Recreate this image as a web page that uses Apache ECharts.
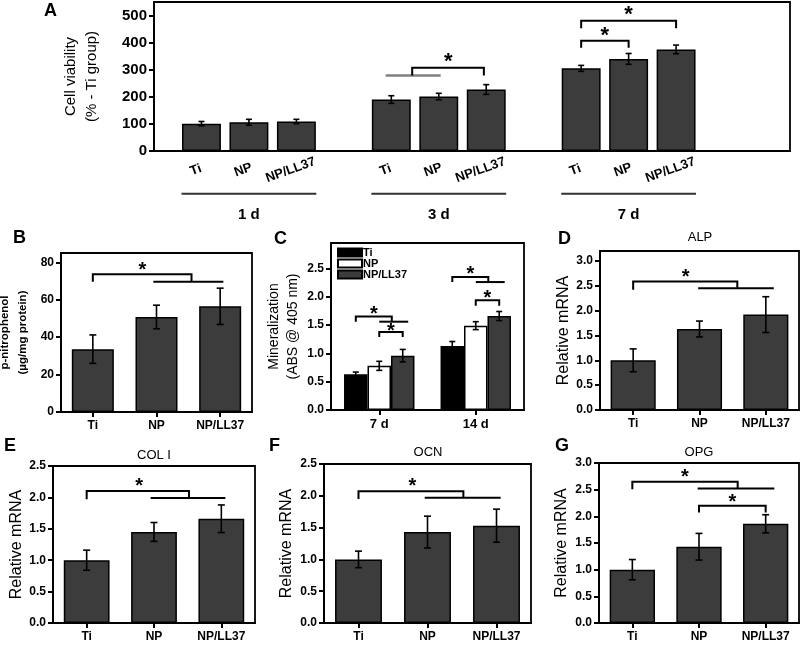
<!DOCTYPE html>
<html><head><meta charset="utf-8">
<script src="https://cdn.jsdelivr.net/npm/echarts@6/dist/echarts.min.js"></script>
<style>html,body{margin:0;padding:0;background:#fff}#c{width:805px;height:647px}</style>
</head><body><div id="c"></div>
<script>
// ---------------- data ----------------
// Panel A: cell viability (% of Ti group)
const dayGroupsA = ['1 d', '3 d', '7 d'];
const barLabelsA = ['Ti', 'NP', 'NP/LL37'];
const slotA = [1, 2, 3, 5, 6, 7, 9, 10, 11];          // bar slots along the x axis
const viabilityA = [101, 106, 109, 190, 201, 227, 305, 340, 375];
const viabilityErrA = [8, 11, 8, 14, 12, 18, 11, 20, 16];

// Panels B, D-G share these groups
const groups = ['Ti', 'NP', 'NP/LL37'];
// Panel B: ALP activity (p-nitrophenol, µg/mg protein)
const alpActivityB = [33.6, 50.8, 56.5];
const alpActivityErrB = [7.6, 6.3, 9.7];

// Panel C: mineralization (ABS @ 405 nm)
const daysC = ['7 d', '14 d'];
const mineralTi = [0.63, 1.13];
const mineralTiErr = [0.04, 0.08];
const mineralNP = [0.78, 1.49];
const mineralNPErr = [0.08, 0.07];
const mineralLL37 = [0.96, 1.66];
const mineralLL37Err = [0.11, 0.08];

// Panels D-G: relative mRNA
const alpD = [1.00, 1.63, 1.92];
const alpErrD = [0.23, 0.16, 0.36];
const col1E = [1.00, 1.45, 1.66];
const col1ErrE = [0.16, 0.15, 0.22];
const ocnF = [1.00, 1.43, 1.53];
const ocnErrF = [0.13, 0.25, 0.26];
const opgG = [1.00, 1.43, 1.86];
const opgErrG = [0.19, 0.25, 0.17];

// significance annotations (x in bar/category units, y in data units)
const sigA = {
  lines: [
    {pts: [[4.88, 279], [6.04, 279]], color: '#808080', w: 2.5},
    {pts: [[5.44, 279], [5.44, 307], [6.95, 307], [6.95, 279]]},
    {pts: [[9, 381], [9, 407], [10, 407], [10, 381]]},
    {pts: [[9, 453], [9, 481], [11, 481], [11, 453]]},
    {pts: [[0.58, -158], [3.42, -158]], color: '#333'},
    {pts: [[4.58, -158], [7.42, -158]], color: '#333'},
    {pts: [[8.58, -158], [11.42, -158]], color: '#333'}
  ],
  stars: [[6.2, 347], [9.5, 441], [10, 521]]
};
const sigB = {lines: [{pts: [[0, 69.6], [0, 73.7], [1.55, 73.7], [1.55, 69.6]]}, {pts: [[0.95, 69.6], [2.05, 69.6]]}],
  stars: [[0.78, 77.8]]};
const sigC = {
  lines: [
    {pts: [[-0.243, 1.56], [-0.243, 1.65], [0.13, 1.65], [0.13, 1.56]]},
    {pts: [[0.0, 1.56], [0.3, 1.56]]},
    {pts: [[0, 1.29], [0, 1.38], [0.243, 1.38], [0.243, 1.29]]},
    {pts: [[0.757, 2.26], [0.757, 2.35], [1.13, 2.35], [1.13, 2.26]]},
    {pts: [[1.0, 2.26], [1.3, 2.26]]},
    {pts: [[1, 1.84], [1, 1.94], [1.243, 1.94], [1.243, 1.84]]}
  ],
  stars: [[-0.056, 1.77], [0.12, 1.47], [0.944, 2.47], [1.12, 2.05]]
};
const sigD = {lines: [{pts: [[0, 2.42], [0, 2.585], [1.57, 2.585], [1.57, 2.45]]}, {pts: [[0.98, 2.45], [2.12, 2.45]]}],
  stars: [[0.79, 2.76]]};
const sigE = {lines: [{pts: [[0, 1.97], [0, 2.10], [1.52, 2.10], [1.52, 1.99]]}, {pts: [[0.95, 1.99], [2.06, 1.99]]}],
  stars: [[0.78, 2.24]]};
const sigF = {lines: [{pts: [[0, 1.95], [0, 2.07], [1.52, 2.07], [1.52, 1.97]]}, {pts: [[0.96, 1.97], [2.06, 1.97]]}],
  stars: [[0.78, 2.21]]};
const sigG = {lines: [
    {pts: [[0, 2.51], [0, 2.65], [1.58, 2.65], [1.58, 2.52]]}, {pts: [[0.98, 2.52], [2.13, 2.52]]},
    {pts: [[1, 2.07], [1, 2.2], [2, 2.2], [2, 2.07]]}],
  stars: [[0.79, 2.82], [1.5, 2.35]]};

// ---------------- chart ----------------
const F = '"Liberation Sans", Arial, Helvetica, sans-serif';
const BAR = '#3c3c3c';
const chart = echarts.init(document.getElementById('c'), null, {renderer: 'canvas'});

function tickList(max, step) { const a = []; for (let i = 0; i * step <= max + 1e-9; i++) a.push(+(i * step).toFixed(4)); return a; }

function yAx(gi, max, step, dec, name, gap, nameStyle, labelSize) {
  const ticks = tickList(max, step);
  return {
    type: 'value', gridIndex: gi, min: 0, max: max, interval: step,
    name: name, nameLocation: 'middle', nameGap: gap, nameRotate: 90, nameMoveOverlap: false,
    nameTextStyle: Object.assign({color: '#000', fontFamily: F, align: 'center'}, nameStyle),
    axisLine: {show: true, onZero: false, lineStyle: {color: '#000', width: 2}},
    axisTick: {show: true, inside: false, length: 5, lineStyle: {color: '#000', width: 2}, customValues: ticks},
    axisLabel: {show: true, color: '#000', fontFamily: F, fontWeight: 'bold', fontSize: labelSize || 12, margin: 7,
      customValues: ticks, hideOverlap: false,
      formatter: v => ticks.some(t => Math.abs(t - v) < 1e-6) ? Number(v).toFixed(dec) : ''},
    splitLine: {show: false}
  };
}
function xCat(gi, cats, size) {
  return {type: 'category', gridIndex: gi, data: cats, boundaryGap: true,
    axisLine: {show: true, onZero: false, lineStyle: {color: '#000', width: 2}},
    axisTick: {show: true, alignWithLabel: true, length: 5, lineStyle: {color: '#000', width: 2}},
    axisLabel: {color: '#000', fontFamily: F, fontWeight: 'bold', fontSize: size || 12, margin: 8, interval: 0},
    splitLine: {show: false}};
}
function grid(l, t, w, h) {
  return {left: l, top: t, width: w, height: h, show: true, borderColor: '#000', borderWidth: 1.8,
    containLabel: false, outerBoundsMode: 'none'};
}
function bars(gi, name, data, color, extra) {
  return Object.assign({type: 'bar', name: name, xAxisIndex: gi, yAxisIndex: gi, data: data, silent: true,
    itemStyle: {color: color, borderColor: '#000', borderWidth: 1.5}, z: 2}, extra || {});
}
function errSeries(gi, xs, vals, errs, off, cap) {
  return {type: 'custom', xAxisIndex: gi, yAxisIndex: gi, z: 5, silent: true, clip: false,
    data: vals.map((v, k) => [xs[k], v, errs[k]]),
    renderItem(params, api) {
      const x = api.value(0), v = api.value(1), e = api.value(2);
      const unit = api.size([1, 0])[0];
      const t = api.coord([x, v + e]), b = api.coord([x, v - e]);
      const cx = t[0] + off * unit;
      const st = {stroke: '#000', lineWidth: 1.6};
      return {type: 'group', children: [
        {type: 'line', shape: {x1: cx, y1: t[1], x2: cx, y2: b[1]}, style: st},
        {type: 'line', shape: {x1: cx - cap, y1: t[1], x2: cx + cap, y2: t[1]}, style: st},
        {type: 'line', shape: {x1: cx - cap, y1: b[1], x2: cx + cap, y2: b[1]}, style: st}
      ]};
    }};
}
function sigSeries(gi, ann, starSize) {
  const items = ann.lines.map(l => ({line: l})).concat(ann.stars.map(s => ({star: s})));
  return {type: 'custom', xAxisIndex: gi, yAxisIndex: gi, z: 6, silent: true, clip: false,
    data: items.map(() => [0, 0]),
    renderItem(params, api) {
      const it = items[params.dataIndex];
      const unit = api.size([1, 0])[0];
      const x0 = api.coord([0, 0])[0];
      const px = p => [x0 + p[0] * unit, api.coord([0, p[1]])[1]];
      if (it.star) {
        const q = px(it.star);
        return {type: 'text', style: {text: '*', x: q[0], y: q[1] + starSize * 0.22, align: 'center',
          verticalAlign: 'middle', font: 'bold ' + starSize + 'px ' + F, fill: '#000'}};
      }
      return {type: 'polyline', shape: {points: it.line.pts.map(px)},
        style: {stroke: it.line.color || '#000', lineWidth: it.line.w || 2, fill: null}};
    }};
}

const grids = [
  grid(154, 2, 636, 149),   // A
  grid(61, 253, 191, 159),  // B
  grid(331, 243, 193, 167), // C
  grid(600, 251, 199, 159), // D
  grid(53, 466, 202, 157),  // E
  grid(324, 464, 207, 159), // F
  grid(599, 463, 200, 160)  // G
];

const xMaxA = 13.4;
const labelShiftA = 0.12;   // rotated labels sit slightly left of their bars
const labelPosA = slotA.map(s => +(s - labelShiftA).toFixed(3));
const xAxes = [
  {type: 'value', gridIndex: 0, min: 0, max: xMaxA, interval: 1,
    axisLine: {show: true, onZero: false, lineStyle: {color: '#000', width: 2}},
    axisTick: {show: false}, splitLine: {show: false},
    axisLabel: {color: '#000', fontFamily: F, fontWeight: 'bold', fontSize: 13, rotate: 20, align: 'center',
      verticalAlign: 'middle', margin: 19, customValues: labelPosA, hideOverlap: false,
      formatter: v => { const k = labelPosA.findIndex(p => Math.abs(p - v) < 1e-6); return k < 0 ? '' : barLabelsA[k % 3]; }}},
  xCat(1, groups), xCat(2, daysC, 13), xCat(3, groups), xCat(4, groups), xCat(5, groups), xCat(6, groups),
  {type: 'value', gridIndex: 0, min: 0, max: xMaxA, position: 'bottom', offset: 54,
    axisLine: {show: false}, axisTick: {show: false}, splitLine: {show: false},
    axisLabel: {color: '#000', fontFamily: F, fontWeight: 'bold', fontSize: 15, margin: 2, hideOverlap: false,
      customValues: [2, 6, 10], formatter: v => dayGroupsA[[2, 6, 10].indexOf(v)] || ''}}
];

const nameReg = {fontSize: 16, fontWeight: 'normal'};
const yAxes = [
  yAx(0, 550, 100, 0, 'Cell viability\n(% - Ti group)', 52, {fontSize: 15, lineHeight: 21}, 15),
  yAx(1, 85, 20, 0, 'p-nitrophenol\n(µg/mg protein)', 29, {fontSize: 11.5, fontWeight: 'bold', lineHeight: 18}),
  yAx(2, 2.95, 0.5, 1, 'Mineralization\n(ABS @ 405 nm)', 28, {fontSize: 14, lineHeight: 19}),
  yAx(3, 3.2, 0.5, 1, 'Relative mRNA', 28, nameReg),
  yAx(4, 2.5, 0.5, 1, 'Relative mRNA', 28, nameReg),
  yAx(5, 2.5, 0.5, 1, 'Relative mRNA', 29, nameReg),
  yAx(6, 3.0, 0.5, 1, 'Relative mRNA', 29, nameReg)
];

const catGapC = 0.27, bwC = (1 - catGapC) / 3;
const series = [
  bars(0, 'Cell viability', slotA.map((p, k) => [p, viabilityA[k]]), BAR, {barWidth: '82%'}),
  errSeries(0, slotA, viabilityA, viabilityErrA, 0, 3),
  sigSeries(0, sigA, 22),

  bars(1, 'p-nitrophenol', alpActivityB, BAR, {barWidth: '66%'}),
  errSeries(1, [0, 1, 2], alpActivityB, alpActivityErrB, 0, 3.5),
  sigSeries(1, sigB, 20),

  bars(2, 'Ti', mineralTi, '#000', {barGap: '0%', barCategoryGap: '27%'}),
  bars(2, 'NP', mineralNP, '#fff', {barGap: '0%', barCategoryGap: '27%'}),
  bars(2, 'NP/LL37', mineralLL37, BAR, {barGap: '0%', barCategoryGap: '27%'}),
  errSeries(2, [0, 1], mineralTi, mineralTiErr, -bwC, 3),
  errSeries(2, [0, 1], mineralNP, mineralNPErr, 0, 3),
  errSeries(2, [0, 1], mineralLL37, mineralLL37Err, bwC, 3),
  sigSeries(2, sigC, 20),

  bars(3, 'ALP', alpD, BAR, {barWidth: '68%'}),
  errSeries(3, [0, 1, 2], alpD, alpErrD, 0, 3.5),
  sigSeries(3, sigD, 20),

  bars(4, 'COL I', col1E, BAR, {barWidth: '68%'}),
  errSeries(4, [0, 1, 2], col1E, col1ErrE, 0, 3.5),
  sigSeries(4, sigE, 20),

  bars(5, 'OCN', ocnF, BAR, {barWidth: '68%'}),
  errSeries(5, [0, 1, 2], ocnF, ocnErrF, 0, 3.5),
  sigSeries(5, sigF, 20),

  bars(6, 'OPG', opgG, BAR, {barWidth: '68%'}),
  errSeries(6, [0, 1, 2], opgG, opgErrG, 0, 3.5),
  sigSeries(6, sigG, 20)
];

const letter = (t, l, tp) => ({text: t, left: l, top: tp, padding: 0,
  textStyle: {fontFamily: F, fontSize: 18, fontWeight: 'bold', color: '#000'}});
const gene = (t, cx, tp) => ({text: t, left: cx, top: tp, padding: 0, textAlign: 'center',
  textStyle: {fontFamily: F, fontSize: 13, fontWeight: 'normal', color: '#000'}});

chart.setOption({
  animation: false,
  backgroundColor: '#fff',
  title: [
    letter('A', 44, 2), letter('B', 13, 229), letter('C', 274, 230), letter('D', 558, 230),
    letter('E', 4, 437), letter('F', 269, 437), letter('G', 555, 437),
    gene('ALP', 700, 231), gene('COL I', 154, 449), gene('OCN', 428, 446), gene('OPG', 699, 446)
  ],
  legend: {show: true, orient: 'vertical', left: 337, top: 247, itemWidth: 24, itemHeight: 8, itemGap: 0,
    icon: 'rect', selectedMode: false, padding: 0, data: ['Ti', 'NP', 'NP/LL37'],
    textStyle: {fontFamily: F, fontWeight: 'bold', fontSize: 11, color: '#000', lineHeight: 9, padding: [0, 0, 0, -4]}},
  grid: grids,
  xAxis: xAxes,
  yAxis: yAxes,
  series: series
});
</script>
</body></html>
